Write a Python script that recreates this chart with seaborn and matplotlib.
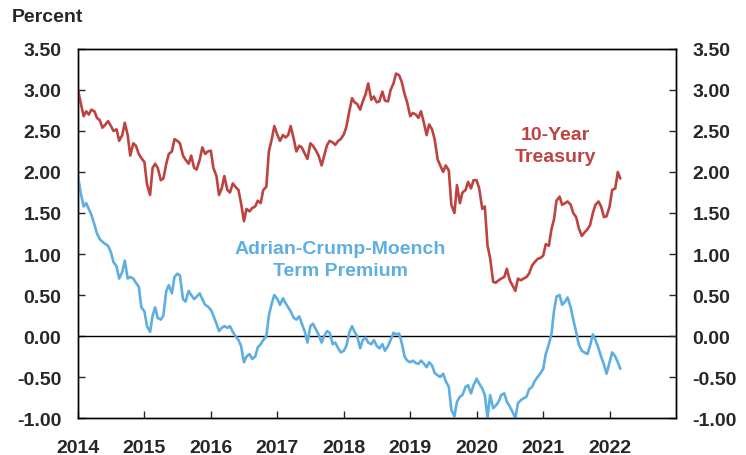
import numpy as np
import pandas as pd
import matplotlib
matplotlib.use("Agg")
import matplotlib.pyplot as plt
import seaborn as sns

# semi-monthly observations, Jan 2014 .. Mar 2022
dates = pd.date_range("2014-01-01", "2022-03-01", freq="SMS")

treasury_10y = [
    # 2014
    3.00, 2.85, 2.68, 2.74, 2.70, 2.76, 2.74, 2.66, 2.63, 2.54, 2.58, 2.62,
    2.56, 2.50, 2.52, 2.38, 2.45, 2.60, 2.45, 2.20, 2.35, 2.32, 2.22, 2.17,
    # 2015
    2.12, 1.85, 1.72, 2.05, 2.10, 2.05, 1.90, 1.92, 2.10, 2.22, 2.25, 2.40,
    2.38, 2.35, 2.20, 2.15, 2.10, 2.20, 2.05, 2.03, 2.15, 2.30, 2.22, 2.25,
    # 2016
    2.26, 2.05, 1.95, 1.72, 1.80, 1.95, 1.78, 1.75, 1.86, 1.82, 1.78, 1.62,
    1.40, 1.55, 1.52, 1.56, 1.58, 1.65, 1.62, 1.78, 1.82, 2.25, 2.40, 2.56,
    # 2017
    2.45, 2.38, 2.45, 2.42, 2.45, 2.56, 2.40, 2.25, 2.32, 2.30, 2.22, 2.16,
    2.35, 2.32, 2.26, 2.20, 2.08, 2.20, 2.33, 2.38, 2.36, 2.33, 2.38, 2.40,
    # 2018
    2.46, 2.55, 2.75, 2.90, 2.85, 2.83, 2.76, 2.86, 2.95, 3.08, 2.88, 2.92,
    2.85, 2.86, 2.98, 2.87, 2.86, 3.00, 3.08, 3.20, 3.18, 3.10, 2.95, 2.85,
    # 2019
    2.68, 2.72, 2.70, 2.66, 2.74, 2.62, 2.45, 2.58, 2.52, 2.40, 2.15, 2.08,
    2.00, 2.08, 2.02, 1.60, 1.50, 1.84, 1.62, 1.75, 1.78, 1.88, 1.80, 1.90,
    # 2020
    1.90, 1.80, 1.55, 1.58, 1.10, 0.95, 0.66, 0.65, 0.68, 0.70, 0.72, 0.82,
    0.68, 0.62, 0.55, 0.70, 0.68, 0.70, 0.72, 0.76, 0.86, 0.90, 0.94, 0.95,
    # 2021
    0.98, 1.12, 1.10, 1.30, 1.42, 1.65, 1.70, 1.60, 1.62, 1.64, 1.60, 1.50,
    1.45, 1.32, 1.22, 1.26, 1.30, 1.35, 1.50, 1.60, 1.64, 1.58, 1.45, 1.46,
    # 2022
    1.58, 1.78, 1.80, 2.00, 1.92,
]

acm_term_premium = [
    # 2014
    1.95, 1.75, 1.58, 1.62, 1.55, 1.48, 1.36, 1.25, 1.18, 1.15, 1.12, 1.10,
    1.02, 0.90, 0.85, 0.70, 0.78, 0.92, 0.70, 0.72, 0.70, 0.65, 0.60, 0.35,
    # 2015
    0.30, 0.12, 0.05, 0.25, 0.35, 0.22, 0.20, 0.25, 0.55, 0.62, 0.52, 0.72,
    0.76, 0.74, 0.45, 0.42, 0.55, 0.50, 0.45, 0.48, 0.52, 0.45, 0.38, 0.36,
    # 2016
    0.32, 0.25, 0.15, 0.06, 0.10, 0.12, 0.10, 0.12, 0.05, 0.00, -0.05, -0.12,
    -0.32, -0.25, -0.22, -0.28, -0.25, -0.14, -0.10, -0.05, 0.00, 0.25, 0.40, 0.50,
    # 2017
    0.45, 0.38, 0.46, 0.40, 0.35, 0.30, 0.22, 0.20, 0.24, 0.15, 0.05, -0.08,
    0.12, 0.15, 0.08, 0.02, -0.08, 0.00, 0.06, 0.04, -0.10, -0.08, -0.15, -0.20,
    # 2018
    -0.18, -0.12, 0.05, 0.12, 0.05, 0.00, -0.15, -0.05, -0.02, -0.08, -0.10, -0.05,
    -0.12, -0.15, -0.10, -0.18, -0.12, -0.05, 0.04, 0.02, 0.03, -0.08, -0.25, -0.30,
    # 2019
    -0.32, -0.30, -0.33, -0.34, -0.30, -0.33, -0.38, -0.32, -0.36, -0.45, -0.48, -0.50,
    -0.46, -0.55, -0.62, -0.90, -0.98, -0.80, -0.74, -0.72, -0.62, -0.60, -0.70, -0.60,
    # 2020
    -0.52, -0.58, -0.64, -0.72, -1.00, -0.72, -0.88, -0.85, -0.80, -0.72, -0.70, -0.80,
    -0.86, -0.92, -1.00, -0.82, -0.78, -0.76, -0.74, -0.65, -0.62, -0.55, -0.50, -0.46,
    # 2021
    -0.40, -0.22, -0.10, 0.02, 0.30, 0.48, 0.50, 0.38, 0.42, 0.47, 0.35, 0.20,
    0.05, -0.10, -0.18, -0.20, -0.22, -0.12, 0.02, -0.05, -0.15, -0.25, -0.35, -0.46,
    # 2022
    -0.32, -0.20, -0.25, -0.32, -0.40,
]

year_ticks = list(range(2014, 2023))
y_ticks = [-1.0, -0.5, 0.0, 0.5, 1.0, 1.5, 2.0, 2.5, 3.0, 3.5]

RED = "#bd4341"
BLUE = "#5eaee3"

df = pd.DataFrame({"date": dates, "treasury": treasury_10y, "acm": acm_term_premium})

sns.set_style("ticks")
plt.rcParams["font.family"] = ["Liberation Sans", "DejaVu Sans"]
plt.rcParams["font.weight"] = "bold"
plt.rcParams["axes.unicode_minus"] = False

fig = plt.figure(figsize=(7.46, 4.56), dpi=100)
ax = fig.add_axes([0.1046, 0.0811, 0.8016, 0.8093])

ax.axhline(0, color="black", lw=1.0, zorder=1)
sns.lineplot(data=df, x="date", y="treasury", ax=ax, color=RED, linewidth=1.9, zorder=3)
sns.lineplot(data=df, x="date", y="acm", ax=ax, color=BLUE, linewidth=1.9, zorder=3)

ax.set_xlim(pd.Timestamp("2014-01-01"), pd.Timestamp("2023-01-01"))
ax.set_ylim(-1.0, 3.5)
ax.set_xlabel("")
ax.set_ylabel("")
ax.set_xticks([pd.Timestamp(f"{y}-01-01") for y in year_ticks])
ax.set_xticklabels([str(y) for y in year_ticks])
ax.set_yticks(y_ticks)
ax.set_yticklabels([f"{v:.2f}" for v in y_ticks])

ax2 = ax.twinx()
ax2.set_ylim(ax.get_ylim())
ax2.set_yticks(y_ticks)
ax2.set_yticklabels([f"{v:.2f}" for v in y_ticks])

for a in (ax, ax2):
    for s in a.spines.values():
        s.set_visible(True)
        s.set_linewidth(1.0)
        s.set_color("black")
ax.tick_params(axis="y", direction="in", length=5, width=1, pad=12, labelsize=14)
ax.tick_params(axis="x", direction="in", length=5, width=1, pad=15, labelsize=14)
ax2.tick_params(axis="y", direction="in", length=5, width=1, pad=12, labelsize=14)
for lbl in ax.get_xticklabels() + ax.get_yticklabels() + ax2.get_yticklabels():
    lbl.set_fontweight("bold")

fig.text(0.016, 0.962, "Percent", fontsize=14, fontweight="bold", ha="left", va="center")
ax.text(pd.Timestamp("2021-03-08"), 2.32, "10-Year\nTreasury", color=RED, fontsize=14,
        fontweight="bold", ha="center", va="center", linespacing=1.4)
ax.text(pd.Timestamp("2017-12-13"), 0.93, "Adrian-Crump-Moench\nTerm Premium", color=BLUE,
        fontsize=14, fontweight="bold", ha="center", va="center", linespacing=1.4)

fig.savefig("out.png", dpi=100)
